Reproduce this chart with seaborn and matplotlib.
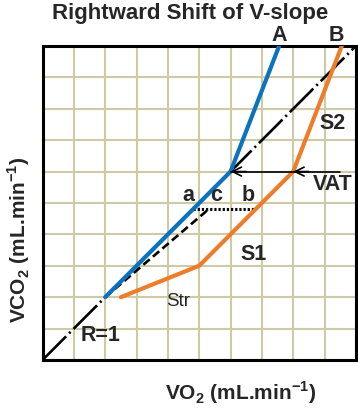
import numpy as np
import pandas as pd
import seaborn as sns
import matplotlib.pyplot as plt

# data (VO2, VCO2 in grid units)
vo2_a = [2, 6, 7.55]
vco2_a = [2, 6, 10]
vo2_b = [2.5, 5, 8, 9.55]
vco2_b = [2, 3, 6, 10]
r1_x = [0, 10]
r1_y = [0, 10]
shift_x = [2, 5.3]
shift_y = [2, 4.8]
abc_x = [4.8, 6.8]
abc_y = [4.8, 4.8]
vat_y = 6
vat_start = 9.5
vat_tips = [6, 8]

sns.set_style('white')
plt.rcParams['font.family'] = ['Liberation Sans', 'DejaVu Sans']
plt.rcParams['mathtext.fontset'] = 'custom'
plt.rcParams['mathtext.rm'] = 'Liberation Sans'
plt.rcParams['mathtext.bf'] = 'Liberation Sans:bold'
plt.rcParams['lines.scale_dashes'] = False

blue, orange = '#0B72C0', '#EE7D2B'
grid_col = '#CFCAA6'

fig = plt.figure(figsize=(3.58, 4.09), dpi=100)
ax = fig.add_axes([0.119, 0.12, 0.875, 0.7675])

df_a = pd.DataFrame({'vo2': vo2_a, 'vco2': vco2_a})
df_b = pd.DataFrame({'vo2': vo2_b, 'vco2': vco2_b})

# R=1 line and helper lines
ax.plot(r1_x, r1_y, color='black', lw=1.9, dashes=(24, 3, 1.5, 3), zorder=2)
ax.plot(shift_x, shift_y, color='black', lw=1.9, dashes=(6, 3), zorder=2)
ax.plot(abc_x, abc_y, color='black', lw=2.2, dashes=(1.6, 1.4), zorder=2)

sns.lineplot(data=df_a, x='vo2', y='vco2', sort=False, color=blue, lw=3, ax=ax, zorder=3)
sns.lineplot(data=df_b, x='vo2', y='vco2', sort=False, color=orange, lw=3, ax=ax, zorder=3)

# VAT arrow
ax.plot([vat_start, vat_tips[0]], [vat_y, vat_y], color='black', lw=1.2, zorder=4)
for t in vat_tips:
    ax.annotate('', xy=(t, vat_y), xytext=(t + 0.5, vat_y),
                arrowprops=dict(arrowstyle='->,head_length=0.65,head_width=0.32',
                                color='black', lw=1.2, shrinkA=0, shrinkB=0),
                zorder=4)

ax.set_xlim(0, 10)
ax.set_ylim(0, 10)
ax.set_xticks(np.arange(0, 11))
ax.set_yticks(np.arange(0, 11))
ax.set_xticklabels([])
ax.set_yticklabels([])
ax.tick_params(length=0)
ax.grid(True, color=grid_col, lw=1.5)
ax.set_axisbelow(True)
ax.set_xlabel('')
ax.set_ylabel('')
for s in ax.spines.values():
    s.set_color('black')
    s.set_linewidth(2.2)

big = 15.5
labels = [('A', 7.54, 10.34), ('B', 9.39, 10.34), ('S2', 9.26, 7.53),
          ('VAT', 9.26, 5.59), ('a', 4.64, 5.23), ('c', 5.53, 5.23),
          ('b', 6.55, 5.23), ('S1', 6.74, 3.35), ('R=1', 1.86, 0.77)]
for txt, x, y in labels:
    ax.text(x, y, txt, fontsize=big, fontweight='bold', ha='center', va='center',
            clip_on=False, zorder=5)
ax.text(4.32, 1.85, 'Str', fontsize=13.5, ha='center', va='center', zorder=5)

fig.text(0.53, 0.966, 'Rightward Shift of V-slope', fontsize=16,
         fontweight='bold', ha='center', va='center')
fig.text(0.673, 0.04, r'VO$_\mathbf{2}$ (mL.min$^\mathbf{-1}$)', fontsize=15,
         fontweight='bold', ha='center', va='center')
fig.text(0.053, 0.413, r'VCO$_\mathbf{2}$ (mL.min$^\mathbf{-1}$)', fontsize=15,
         fontweight='bold', ha='center', va='center', rotation=90)

plt.savefig('out.png', dpi=100)
